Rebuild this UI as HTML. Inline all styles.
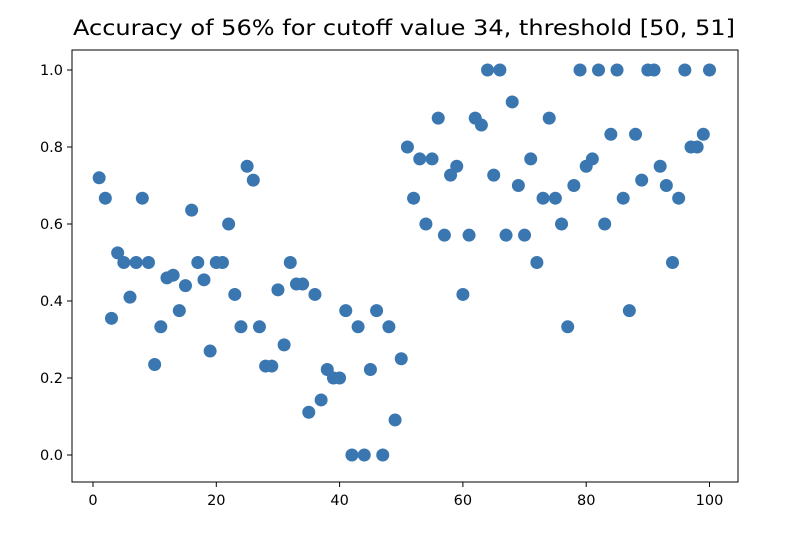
<!DOCTYPE html>
<html><head><meta charset="utf-8"><style>
body{margin:0;background:#fff;}
svg text{font-family:"DejaVu Sans","Liberation Sans",sans-serif;fill:#000;}
</style></head><body>
<svg id="chart" width="792" height="540" xmlns="http://www.w3.org/2000/svg">
<text x="404" y="35" text-anchor="middle" font-size="21" textLength="662" lengthAdjust="spacingAndGlyphs" style="font-family:'DejaVu Sans Condensed','DejaVu Sans',sans-serif">Accuracy of 56% for cutoff value 34, threshold [50, 51]</text>
<rect x="72" y="50" width="666" height="432" fill="none" stroke="#000" stroke-width="1"/>
<g id="ticks"></g><g id="points"></g>
</svg>
<script>
const xTicks=[0,20,40,60,80,100];
const yTicks=[0.0,0.2,0.4,0.6,0.8,1.0];
const yTickLabels=["0.0","0.2","0.4","0.6","0.8","1.0"];
const yValues=[0.72,0.667,0.355,0.525,0.5,0.41,0.5,0.667,0.5,0.235,0.333,0.46,0.467,0.375,0.44,0.636,0.5,0.455,0.27,0.5,0.5,0.6,0.417,0.333,0.75,0.714,0.333,0.231,0.231,0.429,0.286,0.5,0.444,0.444,0.111,0.417,0.143,0.222,0.2,0.2,0.375,0.0,0.333,0.0,0.222,0.375,0.0,0.333,0.091,0.25,0.8,0.667,0.769,0.6,0.769,0.875,0.571,0.727,0.75,0.417,0.571,0.875,0.857,1.0,0.727,1.0,0.571,0.917,0.7,0.571,0.769,0.5,0.667,0.875,0.667,0.6,0.333,0.7,1.0,0.75,0.769,1.0,0.6,0.833,1.0,0.667,0.375,0.833,0.714,1.0,1.0,0.75,0.7,0.5,0.667,1.0,0.8,0.8,0.833,1.0];
const xValues=yValues.map((v,i)=>i+1);
const NS="http://www.w3.org/2000/svg";
function sx(v){return 93+v*6.165;}
function sy(v){return 455-v*385;}
const tg=document.getElementById('ticks'),pg=document.getElementById('points');
xTicks.forEach(t=>{
 const l=document.createElementNS(NS,'line');
 l.setAttribute('x1',sx(t));l.setAttribute('x2',sx(t));l.setAttribute('y1',482);l.setAttribute('y2',487);l.setAttribute('stroke','#000');
 
 
 tg.appendChild(l);
 const tx=document.createElementNS(NS,'text');
 tx.setAttribute('x',sx(t));tx.setAttribute('y',505);tx.setAttribute('text-anchor','middle');tx.setAttribute('font-size','14.5');tx.textContent=t;
 
 
 tg.appendChild(tx);
});
yTicks.forEach((t,i)=>{
 const l=document.createElementNS(NS,'line');
 l.setAttribute('x1',67);l.setAttribute('x2',72);l.setAttribute('y1',sy(t));l.setAttribute('y2',sy(t));l.setAttribute('stroke','#000');
 
 
 tg.appendChild(l);
 const tx=document.createElementNS(NS,'text');
 tx.setAttribute('x',63);tx.setAttribute('y',sy(t)+5);tx.setAttribute('text-anchor','end');tx.setAttribute('font-size','14.5');tx.textContent=yTickLabels[i];
 
 
 tg.appendChild(tx);
});
xValues.forEach((x,i)=>{
 const c=document.createElementNS(NS,'circle');
 c.setAttribute('cx',sx(x));c.setAttribute('cy',sy(yValues[i]));c.setAttribute('r',6.5);c.setAttribute('fill','#3a76b0');
 
 
 pg.appendChild(c);
});
</script>
</body></html>
